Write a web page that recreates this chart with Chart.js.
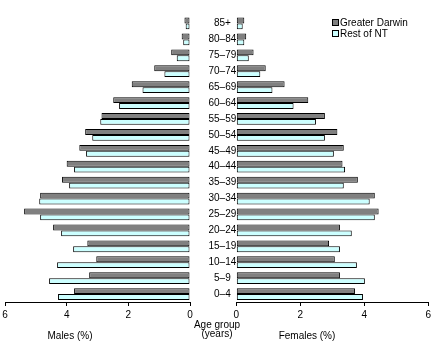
<!DOCTYPE html>
<html>
<head>
<meta charset="utf-8">
<script src="https://cdn.jsdelivr.net/npm/chart.js@4.4.0/dist/chart.umd.min.js"></script>
<style>
    body { margin: 0; background: #fff; }
    #wrap { position: relative; width: 434px; height: 353px; font-family: "Liberation Sans", Arial, sans-serif; font-size: 10px; color: #000; }
    #left { position: absolute; left: 0; top: 0; }
    #right { position: absolute; left: 190px; top: 0; }
    .txt { position: absolute; white-space: nowrap; line-height: 9px; text-align: center; }
    .legend { position: absolute; left: 332px; top: 17px; }
    .legend div { height: 11px; line-height: 11px; white-space: nowrap; }
    .legend span { display: inline-block; width: 5px; height: 5px; border: 1px solid #000; margin-right: 1px; vertical-align: 0px; }
</style>
</head>
<body>
<div id="wrap">
    <canvas id="left" width="200" height="353"></canvas>
    <canvas id="right" width="244" height="353"></canvas>
    <div class="legend" id="legend"></div>
    <div class="txt" style="left:40px; top:331px; width:60px;">Males (%)</div>
    <div class="txt" style="left:187px; top:320px; width:60px;">Age group<br>(years)</div>
    <div class="txt" style="left:272px; top:331px; width:70px;">Females (%)</div>
</div>
<script>
const ageGroups = ['85+', '80–84', '75–79', '70–74', '65–69', '60–64', '55–59', '50–54', '45–49',
    '40–44', '35–39', '30–34', '25–29', '20–24', '15–19', '10–14', '5–9', '0–4'];
const seriesNames = ['Greater Darwin', 'Rest of NT'];
const seriesColors = ['#808080', '#ccffff'];
const xTicks = [0, 2, 4, 6];

const maleDarwin = [0.18, 0.27, 0.61, 1.16, 1.89, 2.49, 2.87, 3.40, 3.59, 4.00, 4.15, 4.86, 5.38, 4.44, 3.33, 3.04, 3.27, 3.76];
const maleRest = [0.14, 0.22, 0.43, 0.83, 1.54, 2.30, 2.91, 3.17, 3.37, 3.76, 3.92, 4.89, 4.86, 4.18, 3.79, 4.31, 4.57, 4.28];
const femaleDarwin = [0.25, 0.31, 0.54, 0.92, 1.51, 2.25, 2.77, 3.16, 3.36, 3.32, 3.80, 4.33, 4.45, 3.24, 2.90, 3.08, 3.24, 3.71];
const femaleRest = [0.20, 0.25, 0.39, 0.75, 1.13, 1.79, 2.49, 2.77, 3.05, 3.40, 3.36, 4.17, 4.33, 3.61, 3.24, 3.77, 4.02, 3.96];

Chart.defaults.font.family = '"Liberation Sans", Arial, sans-serif';
Chart.defaults.font.size = 10;
Chart.defaults.color = '#000';

function makeDatasets(darwin, rest) {
    return [darwin, rest].map((data, i) => ({
        label: seriesNames[i],
        data: data,
        backgroundColor: seriesColors[i],
        borderColor: '#000',
        borderWidth: 1,
        borderSkipped: false,
        barPercentage: 1,
        categoryPercentage: 0.74
    }));
}

function xScale(reverse) {
    return {
        min: 0,
        max: 6,
        reverse: reverse,
        afterBuildTicks: (s) => { s.ticks = xTicks.map(v => ({ value: v })); },
        afterFit: (s) => { s.height = 20; },
        ticks: { color: '#000', padding: 3, maxRotation: 0 },
        grid: { drawOnChartArea: false, drawTicks: true, tickLength: 4, color: '#000' },
        border: { display: true, color: '#000', width: 1 }
    };
}

const common = {
    indexAxis: 'y',
    responsive: false,
    animation: false,
    plugins: { legend: { display: false }, tooltip: { enabled: false } }
};

new Chart(document.getElementById('left'), {
    type: 'bar',
    data: { labels: ageGroups, datasets: makeDatasets(maleDarwin, maleRest) },
    options: {
        ...common,
        layout: { padding: { left: 5, right: 10, top: 15.5, bottom: 31 } },
        scales: {
            x: xScale(true),
            y: { display: false }
        }
    }
});

new Chart(document.getElementById('right'), {
    type: 'bar',
    data: { labels: ageGroups, datasets: makeDatasets(femaleDarwin, femaleRest) },
    options: {
        ...common,
        layout: { padding: { left: 0, right: 5, top: 15.5, bottom: 31 } },
        scales: {
            x: xScale(false),
            y: {
                afterFit: (s) => { s.width = 46.3; },
                ticks: { color: '#000', crossAlign: 'center', padding: 0 },
                grid: { display: false, drawTicks: false },
                border: { display: false }
            }
        }
    }
});

const legend = document.getElementById('legend');
seriesNames.forEach((name, i) => {
    const row = document.createElement('div');
    row.innerHTML = '<span style="background:' + seriesColors[i] + '"></span>' + name;
    legend.appendChild(row);
});
</script>
</body>
</html>
